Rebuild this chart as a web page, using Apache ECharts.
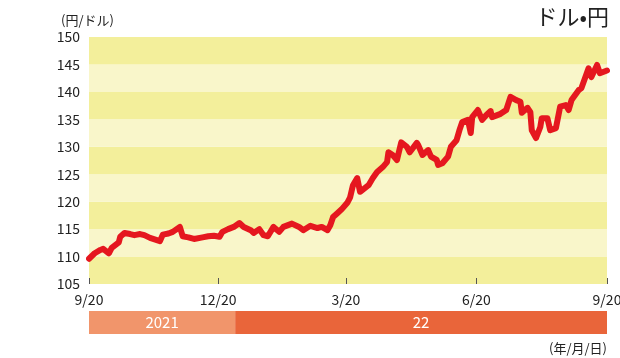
<!DOCTYPE html>
<html><head><meta charset="utf-8">
<script src="https://cdn.jsdelivr.net/npm/echarts@6/dist/echarts.min.js"></script>
<style>html,body{margin:0;padding:0;background:#fff}#c{width:620px;height:358px}</style>
</head><body><div id="c"></div>
<script>
const dates = ['2021-09-20','2021-09-24','2021-09-28','2021-09-30','2021-10-04','2021-10-06','2021-10-11','2021-10-12','2021-10-15','2021-10-19','2021-10-22','2021-10-26','2021-10-29','2021-11-02','2021-11-09','2021-11-11','2021-11-15','2021-11-18','2021-11-23','2021-11-25','2021-11-29','2021-12-03','2021-12-09','2021-12-13','2021-12-17','2021-12-21','2021-12-23','2021-12-27','2021-12-31','2022-01-04','2022-01-07','2022-01-12','2022-01-14','2022-01-18','2022-01-21','2022-01-24','2022-01-28','2022-02-01','2022-02-04','2022-02-10','2022-02-15','2022-02-18','2022-02-23','2022-02-28','2022-03-03','2022-03-07','2022-03-09','2022-03-11','2022-03-14','2022-03-17','2022-03-21','2022-03-23','2022-03-25','2022-03-28','2022-03-30','2022-04-01','2022-04-05','2022-04-08','2022-04-11','2022-04-15','2022-04-18','2022-04-19','2022-04-22','2022-04-25','2022-04-28','2022-05-02','2022-05-04','2022-05-09','2022-05-10','2022-05-13','2022-05-17','2022-05-19','2022-05-23','2022-05-24','2022-05-27','2022-05-31','2022-06-02','2022-06-06','2022-06-08','2022-06-10','2022-06-14','2022-06-16','2022-06-17','2022-06-21','2022-06-24','2022-06-27','2022-06-30','2022-07-01','2022-07-07','2022-07-11','2022-07-14','2022-07-18','2022-07-21','2022-07-22','2022-07-26','2022-07-28','2022-07-29','2022-08-01','2022-08-04','2022-08-05','2022-08-09','2022-08-11','2022-08-15','2022-08-18','2022-08-22','2022-08-24','2022-08-26','2022-08-31','2022-09-02','2022-09-07','2022-09-09','2022-09-13','2022-09-15','2022-09-20'];
const rates = [109.6,110.6,111.2,111.4,110.6,111.6,112.6,113.6,114.3,114.1,113.9,114.1,113.9,113.4,112.8,114.0,114.2,114.5,115.4,113.7,113.5,113.2,113.5,113.7,113.8,113.6,114.5,115.0,115.4,116.1,115.4,114.8,114.3,115.0,113.9,113.7,115.4,114.5,115.4,116.0,115.4,114.8,115.6,115.2,115.4,114.8,115.7,117.2,117.9,118.6,119.8,120.8,123.0,124.3,121.8,122.2,123.0,124.3,125.4,126.3,127.2,129.0,128.5,127.6,130.8,130.0,129.0,130.7,130.3,128.5,129.4,128.2,127.6,126.7,127.0,128.2,130.0,131.2,133.0,134.5,134.9,132.5,135.4,136.7,134.9,135.8,136.5,135.4,136.0,136.7,139.1,138.5,138.2,136.2,137.1,136.3,133.0,131.6,133.6,135.2,135.2,133.0,133.4,137.3,137.6,136.7,138.5,140.3,140.7,144.3,142.7,144.9,143.4,143.9];
const xTicks = ['2021-09-20','2021-12-20','2022-03-20','2022-06-20','2022-09-20'];
const yearNames = ['2021','22'];
const yearStarts = ['2021-09-20','2022-01-01'];
const yearEnds = ['2022-01-01','2022-09-20'];
const yearColors = ['#f1956b','#e9653a'];

const ts = s => { const p = s.split('-').map(Number); return Date.UTC(p[0], p[1]-1, p[2]); };
const xMin = ts(xTicks[0]), xMax = ts(xTicks[xTicks.length-1]);
const FONT = "'Noto Sans CJK JP', 'Noto Sans', sans-serif";

const chart = echarts.init(document.getElementById('c'), null, {renderer:'canvas'});
chart.setOption({
  animation:false,
  backgroundColor:'#fff',
  textStyle:{fontFamily:FONT},
  grid:[
    {left:89, right:13, top:37, bottom:74, containLabel:false, outerBoundsMode:'none'},
    {left:89, right:13, top:311, height:23, containLabel:false, outerBoundsMode:'none'}
  ],
  xAxis:[
    {type:'value', gridIndex:0, min:xMin, max:xMax,
     axisLine:{show:false},
     splitLine:{show:false},
     axisTick:{show:true, inside:true, length:6, lineStyle:{color:'#555', width:1}, customValues:xTicks.map(ts)},
     axisLabel:{show:true, customValues:xTicks.map(ts), fontSize:14, color:'#222', margin:9, fontFamily:FONT,
       formatter:v=>{const d=new Date(v); return (d.getUTCMonth()+1)+'/'+d.getUTCDate();}, hideOverlap:false, showMinLabel:true, showMaxLabel:true}
    },
    {type:'value', gridIndex:1, min:xMin, max:xMax, show:false}
  ],
  yAxis:[
    {type:'value', gridIndex:0, min:105, max:150, interval:5,
     axisLine:{show:false}, axisTick:{show:false},
     splitLine:{show:false},
     splitArea:{show:true, areaStyle:{color:['#f3ef9b','#f9f6ca']}},
     axisLabel:{fontSize:14, color:'#222', margin:9, fontFamily:FONT}
    },
    {type:'value', gridIndex:1, min:0, max:1, show:false}
  ],
  title:[
    {text:'ドル•円', right:6, top:1, textStyle:{fontSize:22, fontWeight:'normal', color:'#222', fontFamily:FONT}},
    {text:'(円/ドル)', left:56, top:9, textStyle:{fontSize:13, fontWeight:'normal', color:'#222', fontFamily:FONT}},
    {text:'(年/月/日)', right:8, top:337, textStyle:{fontSize:13, fontWeight:'normal', color:'#222', fontFamily:FONT}}
  ],
  series:[
    {type:'line', xAxisIndex:0, yAxisIndex:0, showSymbol:false, symbol:'none',
     data:dates.map((d,i)=>[ts(d), rates[i]]),
     lineStyle:{color:'#e5171f', width:6, join:'round', cap:'round'}
    },
    {type:'custom', xAxisIndex:1, yAxisIndex:1,
     data:yearNames.map((n,i)=>[ts(yearStarts[i]), ts(yearEnds[i]), i]),
     encode:{x:[0,1]},
     renderItem:(params, api)=>{
       const s = api.coord([api.value(0), 0]);
       const e = api.coord([api.value(1), 0]);
       const cs = params.coordSys;
       const idx = api.value(2);
       return {type:'rect', shape:{x:s[0], y:cs.y, width:e[0]-s[0], height:cs.height},
         style:{fill:yearColors[idx]},
         textContent:{style:{text:yearNames[idx], fill:'#fff', fontSize:15, fontFamily:FONT}},
         textConfig:{position:'inside'}};
     }
    }
  ]
});
</script></body></html>
